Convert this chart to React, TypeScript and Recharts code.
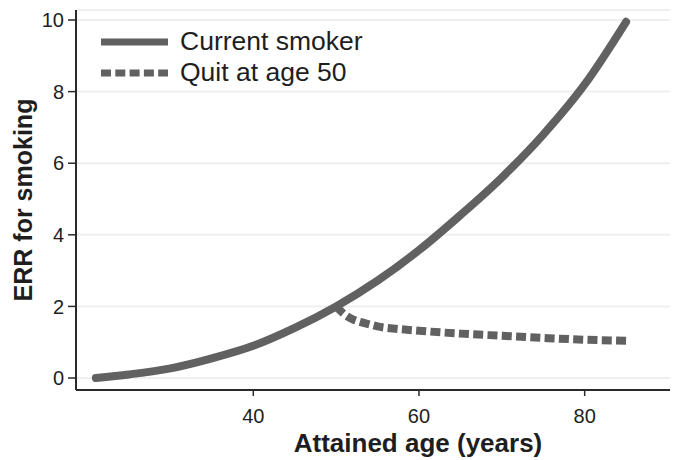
import React from "react";
import { LineChart, Line, XAxis, YAxis, CartesianGrid, Legend, Label } from "recharts";

// Current smoker curve (age, ERR)
const currentAges = [21, 25, 30, 35, 40, 45, 50, 55, 60, 65, 70, 75, 80, 85];
const currentErr = [0, 0.1, 0.27, 0.55, 0.9, 1.4, 2.0, 2.72, 3.57, 4.55, 5.6, 6.8, 8.2, 9.95];

// Quit at 50 curve
const quitAges = [50, 51, 52, 53, 54, 55, 57.5, 60, 65, 70, 75, 80, 85];
const quitErr = [2.0, 1.78, 1.64, 1.56, 1.5, 1.44, 1.37, 1.32, 1.24, 1.18, 1.12, 1.07, 1.04];

const xTicks = [40, 60, 80];
const yTicks = [0, 2, 4, 6, 8, 10];

const seriesNames = ["Current smoker", "Quit at age 50"];

const LINE_COLOR = "#616161";
const TEXT_COLOR = "#1e1e1e";
const FONT = "'Liberation Sans', Arial, sans-serif";

const currentData = currentAges.map((age, i) => ({ age, err: currentErr[i] }));
const quitData = quitAges.map((age, i) => ({ age, err: quitErr[i] }));

const LegendBox = () => (
  <div style={{ fontFamily: FONT, fontSize: 26.5, color: TEXT_COLOR }}>
    {seriesNames.map((name, i) => (
      <div key={name} style={{ display: "flex", alignItems: "center", height: 31, whiteSpace: "nowrap" }}>
        <svg width={67} height={10} style={{ marginRight: 12 }}>
          <line
            x1={0}
            y1={5}
            x2={67}
            y2={5}
            stroke={LINE_COLOR}
            strokeWidth={7}
            strokeDasharray={i === 1 ? "10 4.3" : undefined}
          />
        </svg>
        <span>{name}</span>
      </div>
    ))}
  </div>
);

const YTitle = ({ viewBox }: any) => {
  const cx = 23;
  const cy = viewBox.y + viewBox.height / 2;
  return (
    <text
      x={cx}
      y={cy}
      transform={`rotate(-90 ${cx} ${cy})`}
      textAnchor="middle"
      dominantBaseline="central"
      fontFamily={FONT}
      fontWeight="bold"
      fontSize={25}
      fill={TEXT_COLOR}
    >
      ERR for smoking
    </text>
  );
};

const XTitle = ({ viewBox }: any) => (
  <text
    x={viewBox.x + viewBox.width / 2 + 45}
    y={443}
    textAnchor="middle"
    dominantBaseline="central"
    fontFamily={FONT}
    fontWeight="bold"
    fontSize={26}
    fill={TEXT_COLOR}
  >
    Attained age (years)
  </text>
);

export default function App() {
  return (
    <div style={{ position: "absolute", left: 0, top: 0, width: 677, height: 460, background: "#fff" }}>
      <LineChart width={677} height={460} margin={{ top: 10, right: 7, bottom: 0, left: 0 }}>
        <CartesianGrid vertical={false} stroke="#efefef" strokeWidth={2} />
        <XAxis
          type="number"
          dataKey="age"
          domain={[18.6, 90.3]}
          ticks={xTicks}
          allowDataOverflow
          height={70}
          tickSize={6}
          tickMargin={13}
          axisLine={{ stroke: "#2a2a2a", strokeWidth: 2 }}
          tickLine={{ stroke: "#2a2a2a", strokeWidth: 1.5 }}
          tick={{ fill: TEXT_COLOR, fontSize: 20, fontFamily: FONT }}
        >
          <Label content={<XTitle />} />
        </XAxis>
        <YAxis
          type="number"
          domain={[-0.335, 10.28]}
          ticks={yTicks}
          allowDataOverflow
          width={76}
          tickSize={8}
          tickMargin={4}
          axisLine={{ stroke: "#2a2a2a", strokeWidth: 2 }}
          tickLine={{ stroke: "#2a2a2a", strokeWidth: 1.5 }}
          tick={{ fill: TEXT_COLOR, fontSize: 20, fontFamily: FONT }}
        >
          <Label content={<YTitle />} />
        </YAxis>
        <Legend
          layout="vertical"
          verticalAlign="middle"
          align="center"
          content={<LegendBox />}
          wrapperStyle={{ left: 101, top: 26, width: "auto" }}
        />
        <Line
          data={quitData}
          dataKey="err"
          name={seriesNames[1]}
          type="monotone"
          stroke={LINE_COLOR}
          strokeWidth={8}
          strokeDasharray="10 4.3"
          dot={false}
          activeDot={false}
          isAnimationActive={false}
        />
        <Line
          data={currentData}
          dataKey="err"
          name={seriesNames[0]}
          type="monotone"
          stroke={LINE_COLOR}
          strokeWidth={8}
          strokeLinecap="round"
          dot={false}
          activeDot={false}
          isAnimationActive={false}
        />
      </LineChart>
    </div>
  );
}
